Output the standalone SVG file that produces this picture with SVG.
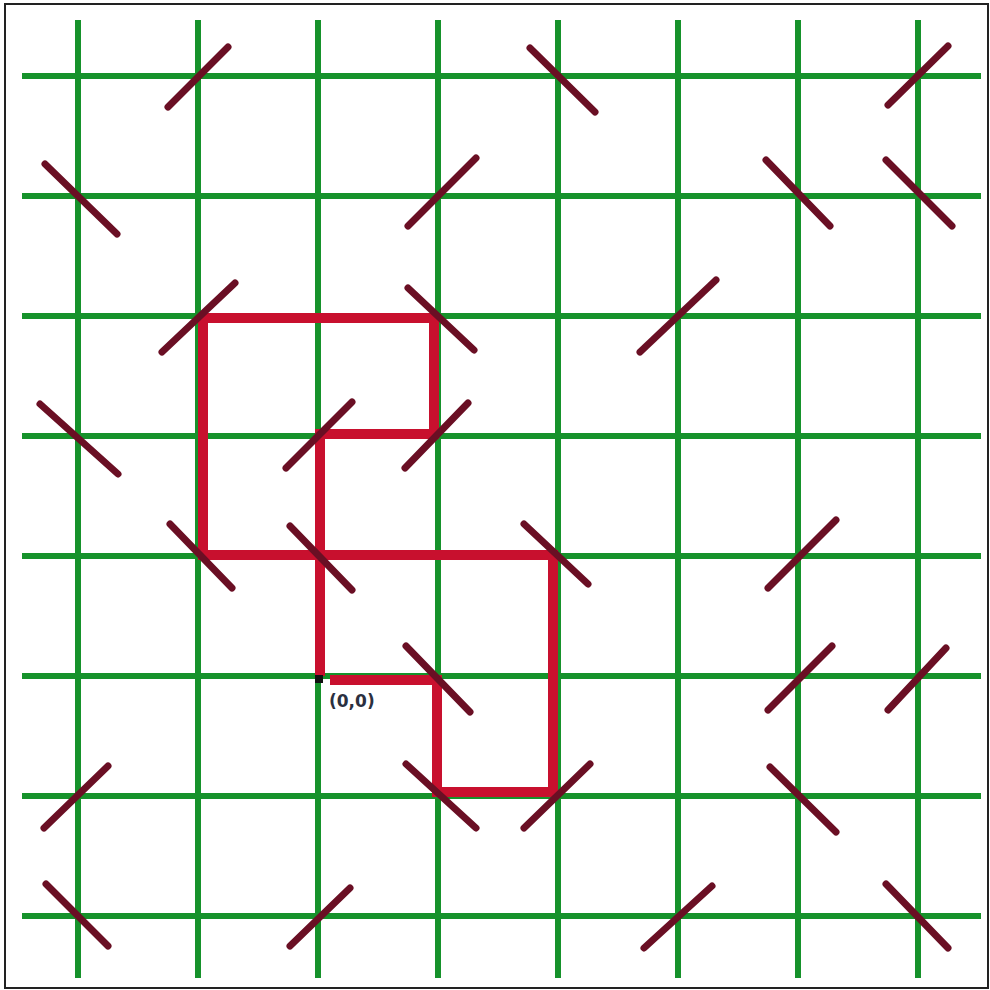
<svg xmlns="http://www.w3.org/2000/svg" width="990" height="990" viewBox="0 0 990 990">
<style>
.g{stroke:#16922b;stroke-width:6;fill:none}
.m{stroke:#6a0f24;stroke-width:7;stroke-linecap:round}
.p{stroke:#c8102e;stroke-width:10;fill:none;stroke-linejoin:miter}
.lbl{font-family:"DejaVu Sans",sans-serif;font-weight:bold;font-size:17px;fill:#2b3040}
</style>
<rect x="0" y="0" width="990" height="990" fill="#ffffff"/>
<rect x="5" y="4" width="983" height="984" fill="none" stroke="#222" stroke-width="2"/>
<g id="grid">
<path class="g" d="M78 20V978M198 20V978M318 20V978M438 20V978M558 20V978M678 20V978M798 20V978M918 20V978"/>
<path class="g" d="M22 76H981M22 196H981M22 316H981M22 436H981M22 556H981M22 676H981M22 796H981M22 916H981"/>
</g>
<g id="path">
<path class="p" d="M320 676V434H434V318H203V555H553V792H437V680H330"/>
</g>
<g id="mirrors">
<line class="m" x1="168" y1="107" x2="228" y2="47"/>
<line class="m" x1="530" y1="48" x2="595" y2="112"/>
<line class="m" x1="888" y1="105" x2="948" y2="46"/>
<line class="m" x1="45" y1="164" x2="117" y2="234"/>
<line class="m" x1="408" y1="226" x2="476" y2="158"/>
<line class="m" x1="766" y1="160" x2="830" y2="226"/>
<line class="m" x1="886" y1="160" x2="952" y2="226"/>
<line class="m" x1="162" y1="352" x2="235" y2="283"/>
<line class="m" x1="408" y1="288" x2="474" y2="350"/>
<line class="m" x1="640" y1="352" x2="716" y2="280"/>
<line class="m" x1="40" y1="404" x2="118" y2="474"/>
<line class="m" x1="286" y1="468" x2="352" y2="402"/>
<line class="m" x1="405" y1="468" x2="468" y2="403"/>
<line class="m" x1="170" y1="524" x2="232" y2="588"/>
<line class="m" x1="290" y1="526" x2="352" y2="590"/>
<line class="m" x1="524" y1="524" x2="588" y2="584"/>
<line class="m" x1="768" y1="588" x2="836" y2="520"/>
<line class="m" x1="406" y1="646" x2="470" y2="712"/>
<line class="m" x1="768" y1="710" x2="832" y2="646"/>
<line class="m" x1="888" y1="710" x2="946" y2="648"/>
<line class="m" x1="44" y1="828" x2="108" y2="766"/>
<line class="m" x1="406" y1="764" x2="476" y2="828"/>
<line class="m" x1="524" y1="828" x2="590" y2="764"/>
<line class="m" x1="770" y1="767" x2="836" y2="832"/>
<line class="m" x1="46" y1="884" x2="108" y2="946"/>
<line class="m" x1="290" y1="946" x2="350" y2="888"/>
<line class="m" x1="644" y1="948" x2="712" y2="886"/>
<line class="m" x1="886" y1="884" x2="948" y2="948"/>
</g>
<g id="origin">
<rect x="315" y="675" width="8" height="8" fill="#111"/>
<text class="lbl" x="329" y="707">(0,0)</text>
</g>
</svg>
